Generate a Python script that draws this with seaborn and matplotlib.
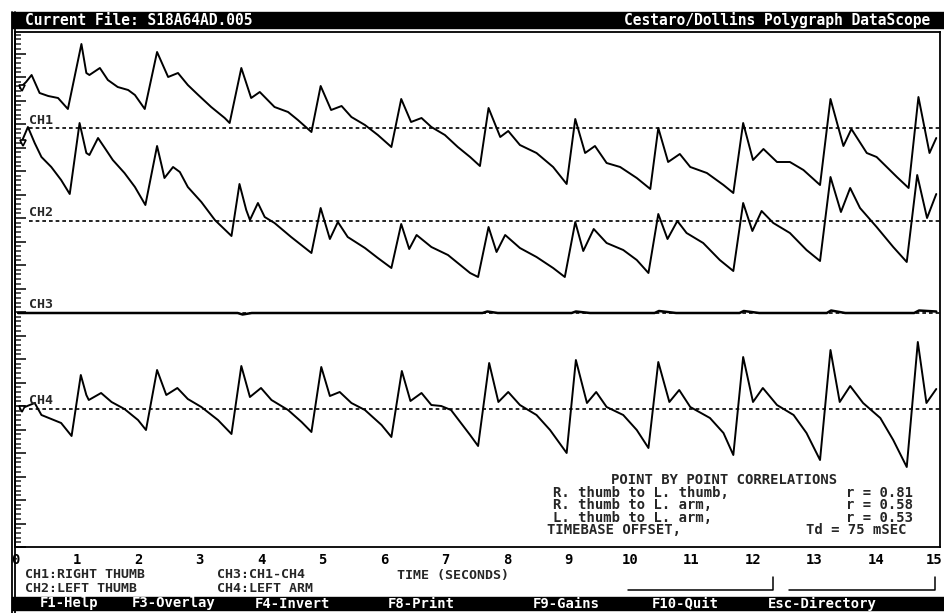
import numpy as np
import pandas as pd
import seaborn as sns

import matplotlib
# Force matplotlib to not use any Xwindows backend.
matplotlib.use('Agg')
import matplotlib.pyplot as plt
import matplotlib.transforms as mtransforms
from matplotlib.ticker import MultipleLocator
from matplotlib.lines import Line2D
from matplotlib.patches import Rectangle

# samples: time (s) and deflection from each channel's zero line
CH1_TIME = [0.08, 0.18, 0.27, 0.40, 0.54, 0.70, 0.86, 1.08, 1.16, 1.21, 1.38, 1.51, 1.67, 1.84, 1.95, 2.11,
            2.31, 2.49, 2.65, 2.81, 2.98, 3.19, 3.41, 3.49, 3.68, 3.84, 3.98, 4.22, 4.44, 4.60, 4.82, 4.97,
            5.14, 5.31, 5.47, 5.69, 5.90, 6.12, 6.28, 6.44, 6.61, 6.77, 6.99, 7.20, 7.40, 7.56, 7.70, 7.89,
            8.02, 8.21, 8.48, 8.75, 8.97, 9.11, 9.27, 9.43, 9.62, 9.84, 10.11, 10.33, 10.46, 10.62, 10.81,
            10.98, 11.25, 11.52, 11.68, 11.84, 12.00, 12.17, 12.39, 12.60, 12.82, 13.09, 13.26, 13.47,
            13.60, 13.85, 14.01, 14.34, 14.53, 14.69, 14.87, 14.98]
CH1_LEVEL = [40, 46, 53, 35, 32, 30, 19, 84, 55, 53, 60, 48, 41, 38, 33, 19,
             76, 51, 55, 43, 33, 21, 10, 5, 60, 30, 36, 21, 16, 8, -4, 42,
             18, 22, 11, 3, -7, -19, 29, 6, 10, 1, -7, -19, -29, -38, 20, -9,
             -3, -17, -25, -39, -56, 9, -25, -18, -35, -39, -50, -61, 0, -34, -26,
             -39, -45, -57, -65, 5, -32, -21, -34, -34, -42, -57, 29, -18,
             -1, -25, -29, -49, -60, 31, -25, -10]

CH2_TIME = [0.10, 0.21, 0.32, 0.43, 0.59, 0.75, 0.89, 1.05, 1.16, 1.21, 1.35, 1.46, 1.59, 1.78, 1.95, 2.12,
            2.31, 2.39, 2.43, 2.57, 2.68, 2.81, 3.03, 3.25, 3.52, 3.65, 3.76, 3.82, 3.95, 4.06, 4.22, 4.49,
            4.82, 4.97, 5.12, 5.25, 5.41, 5.69, 5.90, 6.12, 6.28, 6.41, 6.53, 6.77, 7.04, 7.40, 7.53, 7.70,
            7.83, 7.97, 8.21, 8.48, 8.75, 8.94, 9.11, 9.24, 9.41, 9.62, 9.89, 10.11, 10.30, 10.46, 10.61,
            10.77, 10.92, 11.19, 11.46, 11.68, 11.84, 11.99, 12.14, 12.33, 12.60, 12.87, 13.09, 13.26,
            13.43, 13.58, 13.74, 14.01, 14.28, 14.50, 14.67, 14.83, 14.98]
CH2_LEVEL = [78, 94, 78, 64, 54, 41, 27, 98, 68, 66, 83, 73, 61, 48, 34, 16,
             75, 54, 43, 54, 49, 34, 19, 1, -15, 37, 11, 1, 18, 4, -2, -16,
             -32, 13, -18, -1, -16, -27, -37, -47, -3, -28, -14, -26, -34, -52, -56, -6,
             -31, -14, -27, -36, -47, -56, -1, -30, -8, -22, -29, -39, -52, 7, -18,
             0, -12, -22, -39, -50, 18, -10, 10, -2, -12, -29, -40, 44,
             9, 33, 13, -6, -26, -41, 46, 3, 27]

CH3_TIME = [0.05, 3.62, 3.70, 3.85, 7.60, 7.68, 7.85, 9.05, 9.12, 9.35, 10.40, 10.47, 10.75,
            11.78, 11.85, 12.10, 13.20, 13.27, 13.50, 14.62, 14.70, 14.98]
CH3_LEVEL = [0, 0, -1.5, 0, 0, 1.5, 0, 0, 1.5, 0, 0, 2, 0,
             0, 2, 0, 0, 2.5, 0, 0, 2.5, 1.5]

CH4_TIME = [0.08, 0.32, 0.43, 0.59, 0.75, 0.92, 1.07, 1.16, 1.20, 1.40, 1.57, 1.78, 2.00, 2.13, 2.31, 2.46,
            2.64, 2.81, 3.03, 3.30, 3.52, 3.68, 3.82, 4.00, 4.17, 4.44, 4.66, 4.82, 4.98, 5.12, 5.28, 5.47,
            5.69, 5.96, 6.12, 6.29, 6.43, 6.61, 6.77, 6.93, 7.09, 7.40, 7.53, 7.71, 7.86, 8.02, 8.21, 8.48,
            8.70, 8.97, 9.12, 9.30, 9.45, 9.62, 9.89, 10.11, 10.30, 10.46, 10.64, 10.80, 10.98, 11.30,
            11.52, 11.68, 11.84, 12.00, 12.16, 12.39, 12.66, 12.87, 13.09, 13.26, 13.41, 13.58, 13.79,
            14.07, 14.28, 14.50, 14.68, 14.82, 14.98]
CH4_LEVEL = [0, 6, -6, -10, -14, -27, 34, 14, 9, 16, 7, 0, -11, -21, 39, 14,
             21, 10, 2, -11, -25, 43, 12, 21, 9, -1, -13, -23, 42, 13, 17, 6,
             -1, -16, -28, 38, 8, 16, 4, 3, -1, -26, -37, 46, 7, 17, 4, -6,
             -21, -44, 49, 6, 17, 2, -6, -21, -39, 47, 7, 19, 2, -9,
             -24, -46, 52, 7, 21, 4, -6, -24, -51, 59, 7, 23, 6,
             -9, -31, -58, 67, 6, 20]

CHANNELS = ["CH1", "CH2", "CH3", "CH4"]
CHANNEL_NAMES = ["RIGHT THUMB", "LEFT THUMB", "CH1-CH4", "LEFT ARM"]
TIME_TICKS = list(range(0, 16))

CORR_PAIRS = ["R. thumb to L. thumb,", "R. thumb to L. arm,", "L. thumb to L. arm,"]
CORR_R = [0.81, 0.58, 0.53]
TD_MSEC = 75

FILE_NAME = "S18A64AD.005"
KEYS = ["F1-Help", "F3-Overlay", "F4-Invert", "F8-Print", "F9-Gains", "F10-Quit", "Esc-Directory"]

# screen layout (pixels of a 944x613 screen)
W, H = 944, 613
ZERO_LINE = {"CH1": 419, "CH2": 326, "CH3": 234, "CH4": 138}
KEY_X = [40, 132, 255, 388, 533, 652, 768]


def fx(x):
    return x / W


def fy(y):
    return 1 - y / H


traces = {"CH1": (CH1_TIME, CH1_LEVEL), "CH2": (CH2_TIME, CH2_LEVEL),
          "CH3": (CH3_TIME, CH3_LEVEL), "CH4": (CH4_TIME, CH4_LEVEL)}
frames = []
for ch, (t, v) in traces.items():
    d = pd.DataFrame({"time": t, "level": v})
    d["channel"] = ch
    d["screen"] = d["level"] + ZERO_LINE[ch]
    frames.append(d)
df = pd.concat(frames, ignore_index=True)

sns.set_style("white")
plt.rcParams['font.family'] = ['DejaVu Sans Mono']
plt.rcParams['font.weight'] = 'bold'

fig = plt.figure(figsize=(W / 100, H / 100), dpi=100)
ax = fig.add_axes([fx(15), fy(547), fx(940) - fx(15), fy(32) - fy(547)])

sns.lineplot(data=df, x="time", y="screen", hue="channel", palette=["black"] * 4,
             estimator=None, sort=False, legend=False, lw=1.4, ax=ax)
ax.lines[2].set_linewidth(1.8)

# zero lines, channel tags and start markers
for ch in CHANNELS:
    base = ZERO_LINE[ch]
    ax.hlines(base, 0.22, 15.04, colors="black", linestyles=(0, (2.2, 1.8)), lw=1.2, zorder=1)
    ax.text(0.23, base + 8, ch, fontsize=9.5, fontweight="bold", va="center", ha="left")
    if ch != "CH3":
        t0, v0 = traces[ch][0][0], traces[ch][1][0]
        ax.plot([t0 + 0.03], [v0 + base], marker="v", ms=5, mfc="white", mec="black", mew=1.2)

ax.set_xlim(0, (940 - 15) / 61.5)
ax.set_ylim(0, 515)
ax.set_xlabel("")
ax.set_ylabel("")
ax.set_xticks(TIME_TICKS)
ax.set_xticklabels([str(t) for t in TIME_TICKS], fontsize=10, fontweight="bold")
ax.tick_params(axis="x", direction="inout", length=8, width=1.3, pad=0.5, colors="black")
# last label sits against the screen edge
last = ax.get_xticklabels()[-1]
last.set_horizontalalignment("right")
last.set_transform(last.get_transform() + mtransforms.ScaledTranslation(5 / 100, 0, fig.dpi_scale_trans))
ax.yaxis.set_major_locator(MultipleLocator(23.5))
ax.yaxis.set_minor_locator(MultipleLocator(4.7))
ax.tick_params(axis="y", which="major", direction="in", length=8, width=1.3, left=True, labelleft=False)
ax.tick_params(axis="y", which="minor", direction="in", length=4.5, width=1.1, left=True)
for s in ax.spines.values():
    s.set_visible(True)
    s.set_color("black")
    s.set_linewidth(1.3)

# screen furniture
fig.add_artist(Rectangle((fx(12), fy(28)), fx(944) - fx(12), fy(12) - fy(28),
                         transform=fig.transFigure, color="black"))
fig.add_artist(Rectangle((fx(12), fy(610)), fx(944) - fx(12), fy(597) - fy(610),
                         transform=fig.transFigure, color="black"))
for x in [11.5, 15]:
    fig.add_artist(Line2D([fx(x), fx(x)], [fy(12), fy(613)], color="black", lw=1.3))
for x0, x1 in [(628, 773), (789, 935)]:
    fig.add_artist(Line2D([fx(x0), fx(x1), fx(x1)], [fy(590), fy(590), fy(577)], color="black", lw=1.1))

fig.text(fx(25), fy(20.5), "Current File: " + FILE_NAME, color="white", fontsize=10.5,
         fontweight="bold", va="center", ha="left")
fig.text(fx(930), fy(20.5), "Cestaro/Dollins Polygraph DataScope", color="white", fontsize=10.5,
         fontweight="bold", va="center", ha="right")
for key, x in zip(KEYS, KEY_X):
    fig.text(fx(x), fy(603.5), key, color="white", fontsize=10, fontweight="bold", va="center", ha="left")

# channel legend under the time axis, two columns of two rows
for col in range(2):
    rows = [f"{CHANNELS[i]}:{CHANNEL_NAMES[i]}" for i in (2 * col, 2 * col + 1)]
    fig.text(fx(25 + 192 * col), fy(581), "\n".join(rows), fontsize=9.5, fontweight="bold",
             va="center", ha="left", linespacing=1.1)
fig.text(fx(397), fy(575), "TIME (SECONDS)", fontsize=9.5, fontweight="bold", va="center", ha="left")

# correlation box
fig.text(fx(724), fy(480), "POINT BY POINT CORRELATIONS", fontsize=10, fontweight="bold",
         va="center", ha="center")
for i, (pair, r) in enumerate(zip(CORR_PAIRS, CORR_R)):
    y = 493 + 12.3 * i
    fig.text(fx(553), fy(y), pair, fontsize=10, fontweight="bold", va="center", ha="left")
    fig.text(fx(913), fy(y), f"r = {r:.2f}", fontsize=10, fontweight="bold", va="center", ha="right")
fig.text(fx(547), fy(530), "TIMEBASE OFFSET,", fontsize=10, fontweight="bold", va="center", ha="left")
fig.text(fx(907), fy(530), f"Td = {TD_MSEC} mSEC", fontsize=10, fontweight="bold", va="center", ha="right")

fig.savefig("out.png", dpi=100)
plt.close()
